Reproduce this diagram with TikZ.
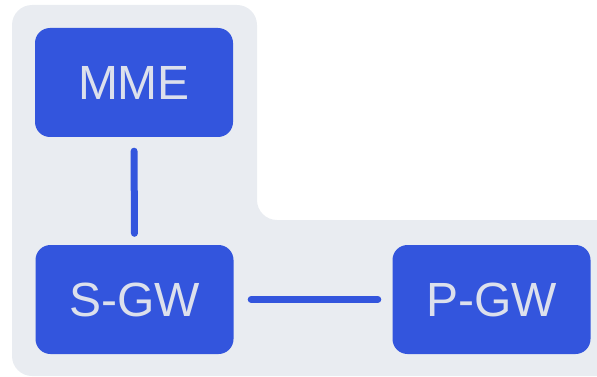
\documentclass[tikz,border=0pt]{standalone}
\usepackage{fontspec}
\setmainfont{Liberation Sans}
\definecolor{panel}{HTML}{E9ECF1}
\definecolor{boxblue}{HTML}{3355DD}
\definecolor{boxtext}{HTML}{DCE0EC}
\tikzset{
  netbox/.style={fill=boxblue, rounded corners=15pt, minimum width=198pt,
    minimum height=109pt, inner sep=0pt, text=boxtext,
    font=\fontsize{48}{58}\selectfont},
  link/.style={draw=boxblue, line width=7pt, line cap=round}
}
\begin{document}
\begin{tikzpicture}[x=1pt,y=-1pt]
  \useasboundingbox (0,0) rectangle (597,377);
  % L-shaped panel behind the nodes
  \fill[panel, rounded corners=20pt]
    (12,5) -- (257,5) -- (257,220) -- (640,220) -- (640,376) -- (12,376) -- cycle;
  \node[netbox] (mme) at (134,82.5) {MME};
  \node[netbox] (sgw) at (134.5,299.5) {S-GW};
  \node[netbox] (pgw) at (491.5,299.5) {P-GW};
  \draw[link, shorten <=14pt, shorten >=11.5pt] (mme.south) -- (sgw.north);
  \draw[link, shorten <=17.5pt, shorten >=14.5pt] (sgw.east) -- (pgw.west);
\end{tikzpicture}
\end{document}
